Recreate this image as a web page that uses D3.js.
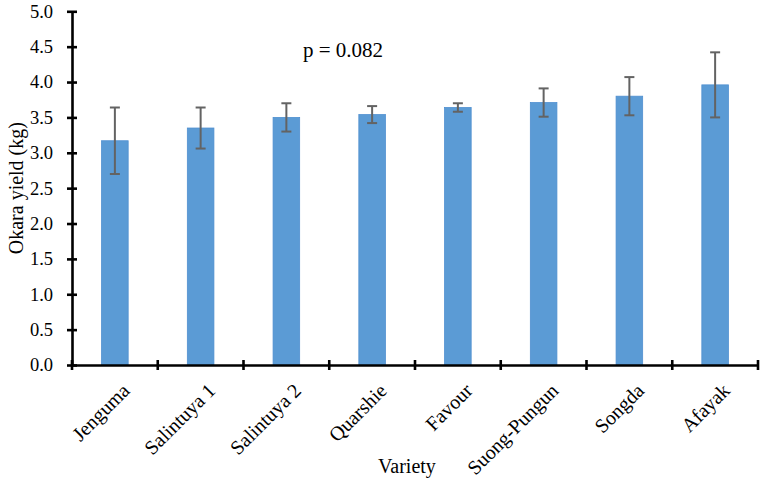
<!DOCTYPE html>
<html>
<head>
<meta charset="utf-8">
<script src="https://cdn.jsdelivr.net/npm/d3@7"></script>
<style>
  body { margin: 0; background: #fff; }
  text { font-family: "Liberation Serif", "Times New Roman", serif; fill: #000; }
</style>
</head>
<body>
<svg width="765" height="484"></svg>
<script>
// values
var varieties = ['Jenguma', 'Salintuya 1', 'Salintuya 2', 'Quarshie', 'Favour', 'Suong-Pungun', 'Songda', 'Afayak'];
var yieldKg = [3.17, 3.35, 3.50, 3.54, 3.64, 3.71, 3.80, 3.96];
var errKg = [0.47, 0.29, 0.20, 0.12, 0.06, 0.20, 0.27, 0.46];
var yTicks = [0, 0.5, 1, 1.5, 2, 2.5, 3, 3.5, 4, 4.5, 5];

var data = varieties.map(function (v, i) {
  return { variety: v, value: yieldKg[i], err: errKg[i] };
});

var svg = d3.select('svg');
var plotLeft = 72, plotRight = 758, plotTop = 11.3, plotBottom = 365;

var xScale = d3.scaleBand().domain(varieties).range([plotLeft, plotRight]).paddingInner(0.69).paddingOuter(0.345);
var yScale = d3.scaleLinear().domain([0, 5]).range([plotBottom, plotTop]);
var band = d3.scaleBand().domain(varieties).range([plotLeft, plotRight]);

// bars
svg.selectAll('.bar')
  .data(data)
  .enter()
  .append('rect')
  .attr('class', 'bar')
  .attr('x', d => xScale(d.variety))
  .attr('y', d => yScale(d.value))
  .attr('width', xScale.bandwidth())
  .attr('height', d => yScale(0) - yScale(d.value))
  .attr('fill', '#5b9bd5')
  .attr('stroke', '#4f8fd0')
  .attr('stroke-width', 0.8);

// error bars
var eb = svg.selectAll('.err').data(data).enter().append('g').attr('class', 'err')
  .attr('stroke', '#636363').attr('stroke-width', 2);
var cx = d => xScale(d.variety) + xScale.bandwidth() / 2;
eb.append('line')
  .attr('x1', cx).attr('x2', cx)
  .attr('y1', d => yScale(d.value + d.err))
  .attr('y2', d => yScale(d.value - d.err));
eb.append('line')
  .attr('x1', d => cx(d) - 5).attr('x2', d => cx(d) + 5)
  .attr('y1', d => yScale(d.value + d.err))
  .attr('y2', d => yScale(d.value + d.err));
eb.append('line')
  .attr('x1', d => cx(d) - 5).attr('x2', d => cx(d) + 5)
  .attr('y1', d => yScale(d.value - d.err))
  .attr('y2', d => yScale(d.value - d.err));

// y axis
var yAxis = svg.append('g')
  .attr('transform', `translate(${plotLeft},0)`)
  .call(d3.axisLeft(yScale).tickValues(yTicks).tickFormat(d3.format('.1f')).tickSizeInner(5).tickSizeOuter(0).tickPadding(14));
yAxis.select('.domain').attr('stroke', '#000').attr('stroke-width', 2.6);
yAxis.selectAll('.tick line').attr('stroke', '#000').attr('stroke-width', 2.6).attr('x2', 5).attr('x1', -5);
yAxis.selectAll('.tick text').attr('font-size', 18.5).style('font-family', '"Liberation Serif", serif');

// x axis
var xAxis = svg.append('g')
  .attr('transform', `translate(0,${plotBottom})`)
  .call(d3.axisBottom(xScale).tickSize(0).tickFormat(''));
xAxis.select('.domain').attr('stroke', '#000').attr('stroke-width', 2.6);
xAxis.selectAll('.tick').remove();
var bounds = varieties.map(v => band(v)).concat([plotRight]);
xAxis.selectAll('.xt')
  .data(bounds)
  .enter()
  .append('line')
  .attr('x1', d => d).attr('x2', d => d)
  .attr('y1', -5).attr('y2', 5)
  .attr('stroke', '#000').attr('stroke-width', 2.6);

svg.selectAll('.xlab')
  .data(varieties)
  .enter()
  .append('text')
  .attr('class', 'xlab')
  .attr('transform', d => `translate(${xScale(d) + xScale.bandwidth() / 2 + 6},${plotBottom + 17}) rotate(-45)`)
  .attr('text-anchor', 'end')
  .attr('dy', '0.7em')
  .attr('font-size', 20)
  .text(d => d);

// titles
svg.append('text')
  .attr('transform', `translate(23,${(plotTop + plotBottom) / 2}) rotate(-90)`)
  .attr('text-anchor', 'middle')
  .attr('font-size', 20)
  .text('Okara yield (kg)');

svg.append('text')
  .attr('x', 407)
  .attr('y', 473)
  .attr('text-anchor', 'middle')
  .attr('font-size', 20)
  .text('Variety');

svg.append('text')
  .attr('x', 303)
  .attr('y', 57)
  .attr('font-size', 21)
  .text('p = 0.082');
</script>
</body>
</html>
